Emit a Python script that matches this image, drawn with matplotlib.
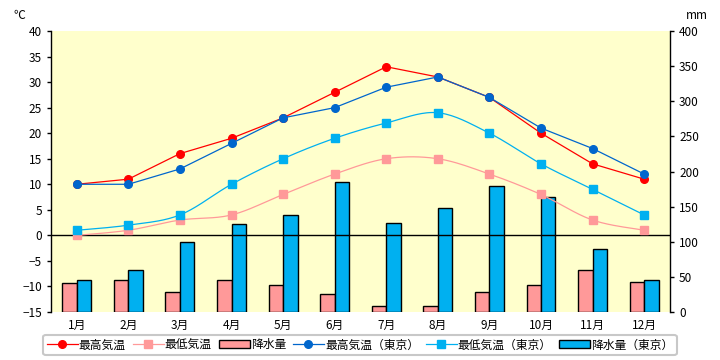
import numpy as np
import matplotlib
matplotlib.use("Agg")
import matplotlib.pyplot as plt
from matplotlib.patches import Patch
from matplotlib.lines import Line2D

plt.rcParams['font.family'] = ['Noto Sans CJK JP', 'DejaVu Sans']

months = ["1月", "2月", "3月", "4月", "5月", "6月",
          "7月", "8月", "9月", "10月", "11月", "12月"]

high_temp = [10, 11, 16, 19, 23, 28, 33, 31, 27, 20, 14, 11]
low_temp = [0, 1, 3, 4, 8, 12, 15, 15, 12, 8, 3, 1]
rain = [42, 45, 29, 45, 39, 25, 8, 8, 28, 38, 60, 43]

tokyo_high = [10, 10, 13, 18, 23, 25, 29, 31, 27, 21, 17, 12]
tokyo_low = [1, 2, 4, 10, 15, 19, 22, 24, 20, 14, 9, 4]
tokyo_rain = [45.1, 60.4, 99.5, 125.0, 138.0, 185.0, 126.1, 147.5, 179.8, 164.1, 89.1, 45.7]

RED = "#FF0000"
PINK = "#FF9999"
BLUE = "#0066CC"
CYAN = "#00B0F0"


def smooth(x, y, n=20):
    # catmull-rom style smoothing like Excel's smoothed line
    x = np.asarray(x, float)
    y = np.asarray(y, float)
    px = np.concatenate([[x[0]], x, [x[-1]]])
    py = np.concatenate([[y[0]], y, [y[-1]]])
    xs, ys = [], []
    t = np.linspace(0, 1, n)
    for i in range(1, len(px) - 2):
        p0, p1, p2, p3 = (np.array([px[j], py[j]]) for j in range(i - 1, i + 3))
        c1 = p1 + (p2 - p0) / 6
        c2 = p2 - (p3 - p1) / 6
        pts = ((1 - t) ** 3)[:, None] * p1 + (3 * (1 - t) ** 2 * t)[:, None] * c1 \
            + (3 * (1 - t) * t ** 2)[:, None] * c2 + (t ** 3)[:, None] * p2
        xs.extend(pts[:, 0])
        ys.extend(pts[:, 1])
    return xs, ys


x = np.arange(len(months))

fig = plt.figure(figsize=(7.2, 3.6), dpi=100)
ax = fig.add_axes([0.0708, 0.1333, 0.8597, 0.7806])
ax2 = ax.twinx()

ax2.patch.set_visible(True)
ax2.set_facecolor("#FFFFCC")
ax.set_zorder(ax2.get_zorder() + 1)
ax.patch.set_visible(False)

w = 0.28
ax2.bar(x - w / 2, rain, width=w, color=PINK, edgecolor="black", linewidth=1)
ax2.bar(x + w / 2, tokyo_rain, width=w, color=CYAN, edgecolor="black", linewidth=1)
ax2.set_ylim(0, 400)
ax2.set_yticks(range(0, 401, 50))

ax.axhline(0, color="black", linewidth=1)

ms = 5.5
ax.plot(x, high_temp, color=RED, linewidth=0.9, marker="o", markersize=ms)
ax.plot(x, tokyo_high, color=BLUE, linewidth=0.9, marker="o", markersize=ms)
sx, sy = smooth(x, low_temp)
ax.plot(sx, sy, color=PINK, linewidth=0.9)
ax.plot(x, low_temp, color=PINK, linestyle="none", marker="s", markersize=ms)
sx, sy = smooth(x, tokyo_low)
ax.plot(sx, sy, color=CYAN, linewidth=0.9)
ax.plot(x, tokyo_low, color=CYAN, linestyle="none", marker="s", markersize=ms)

ax.set_xlim(-0.5, len(months) - 0.5)
ax.set_ylim(-15, 40)
ax.set_yticks(range(-15, 41, 5))
ax.set_xticks(x)
ax.set_xticklabels(months)

for a in (ax, ax2):
    for s in ("top", "bottom"):
        a.spines[s].set_visible(False)
    a.tick_params(axis="both", labelsize=8.5, length=3, width=1, colors="black")
ax.tick_params(axis="x", length=0, pad=5)
ax2.spines["right"].set_linewidth(1)
ax.spines["left"].set_linewidth(1)
ax2.spines["left"].set_visible(False)
ax.spines["right"].set_visible(False)

fig.text(0.018, 0.958, "℃", fontsize=8.5, ha="left", va="center")
fig.text(0.953, 0.958, "mm", fontsize=8.5, ha="left", va="center")

handles = [
    Line2D([], [], color=RED, marker="o", markersize=ms, linewidth=0.9),
    Line2D([], [], color=PINK, marker="s", markersize=ms, linewidth=0.9),
    Patch(facecolor=PINK, edgecolor="black"),
    Line2D([], [], color=BLUE, marker="o", markersize=ms, linewidth=0.9),
    Line2D([], [], color=CYAN, marker="s", markersize=ms, linewidth=0.9),
    Patch(facecolor=CYAN, edgecolor="black"),
]
labels = ["最高気温", "最低気温", "降水量", "最高気温（東京）", "最低気温（東京）", "降水量（東京）"]
leg = fig.legend(handles, labels, loc="center", bbox_to_anchor=(0.5, 0.042), ncol=6,
                 fontsize=8.5, frameon=True, fancybox=True, edgecolor="#BBBBBB",
                 handlelength=2.6, handletextpad=0.1, columnspacing=0.6, borderpad=0.3)
leg.get_frame().set_linewidth(1.5)

fig.savefig("out.png", dpi=100)
